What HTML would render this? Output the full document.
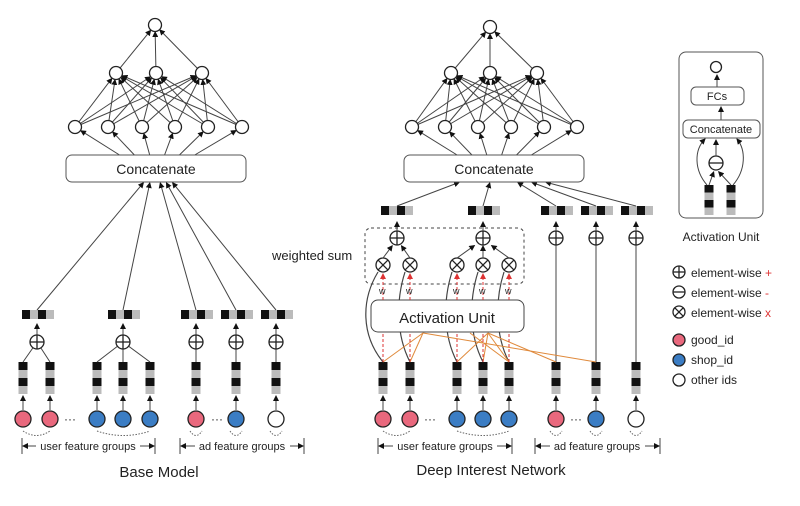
<!DOCTYPE html>
<html><head><meta charset="utf-8">
<style>
html,body{margin:0;padding:0;background:#fff;}
svg{display:block;}
text{font-family:"Liberation Sans",sans-serif;fill:#222;}
</style></head>
<body>
<svg id="s" width="800" height="506" viewBox="0 0 800 506" xmlns="http://www.w3.org/2000/svg">
<defs>
<marker id="a" markerWidth="6" markerHeight="6" refX="5" refY="3" orient="auto" markerUnits="userSpaceOnUse"><path d="M0,0 L6,3 L0,6 z" fill="#111"/></marker>
<marker id="r" markerWidth="6" markerHeight="6" refX="5" refY="3" orient="auto" markerUnits="userSpaceOnUse"><path d="M0,0 L6,3 L0,6 z" fill="#d33"/></marker>
</defs>
<g id="g"></g>
<rect x="66" y="155" width="180" height="27" rx="6" fill="#fff" stroke="#555"/>
<text x="156" y="174" font-size="14" text-anchor="middle">Concatenate</text>
<rect x="404" y="155" width="180" height="27" rx="6" fill="#fff" stroke="#555"/>
<text x="494" y="174" font-size="14" text-anchor="middle">Concatenate</text>
<text x="272" y="260" font-size="13">weighted sum</text>
<text x="88" y="450" font-size="11" text-anchor="middle">user feature groups</text>
<text x="242" y="450" font-size="11" text-anchor="middle">ad feature groups</text>
<text x="159" y="477" font-size="15" text-anchor="middle">Base Model</text>
<text x="445" y="450" font-size="11" text-anchor="middle">user feature groups</text>
<text x="597" y="450" font-size="11" text-anchor="middle">ad feature groups</text>
<text x="491" y="475" font-size="15" text-anchor="middle">Deep Interest Network</text>
<rect x="679" y="52" width="84" height="166" rx="7" fill="none" stroke="#555"/>
<rect x="691" y="87" width="53" height="18" rx="5" fill="#fff" stroke="#555"/>
<text x="717" y="100" font-size="11" text-anchor="middle">FCs</text>
<rect x="683" y="120" width="77" height="18" rx="5" fill="#fff" stroke="#555"/>
<text x="721" y="133" font-size="11" text-anchor="middle">Concatenate</text>
<text x="721" y="241" font-size="12" text-anchor="middle">Activation Unit</text>
<text x="691" y="277" font-size="12">element-wise <tspan fill="#d33">+</tspan></text>
<text x="691" y="297" font-size="12">element-wise <tspan fill="#d33">-</tspan></text>
<text x="691" y="317" font-size="12">element-wise <tspan fill="#d33">x</tspan></text>
<text x="691" y="344" font-size="12">good_id</text>
<text x="691" y="364" font-size="12">shop_id</text>
<text x="691" y="384" font-size="12">other ids</text>
<g id="top"></g>
<text x="447" y="323" font-size="15" text-anchor="middle">Activation Unit</text>
</svg>
<script>
var g=document.getElementById('g'),tp=document.getElementById('top'),NS='http://www.w3.org/2000/svg';
function el(t,a,p){var e=document.createElementNS(NS,t);for(var k in a)e.setAttribute(k,a[k]);(p||g).appendChild(e);return e;}
function line(x1,y1,x2,y2,arr,col,dash,w,p){var o={x1:x1,y1:y1,x2:x2,y2:y2,stroke:col||'#444','stroke-width':w||1};if(arr)o['marker-end']='url(#'+(col=='#d33'?'r':'a')+')';if(dash)o['stroke-dasharray']=dash;return el('line',o,p);}
function circ(x,y,r,f,p){el('circle',{cx:x,cy:y,r:r,fill:f||'#fff',stroke:'#222','stroke-width':1.3},p);}
function shorten(x1,y1,x2,y2,d){var dx=x2-x1,dy=y2-y1,l=Math.hypot(dx,dy);return [x2-dx/l*d,y2-dy/l*d];}
function arrow(x1,y1,x2,y2,d,col,dash){var e=shorten(x1,y1,x2,y2,d);line(x1,y1,e[0],e[1],true,col,dash);}
function op(x,y,t,r,p){r=r||7;circ(x,y,r,'#fff',p);var q=p||g;
 if(t=='+'){line(x-r,y,x+r,y,0,'#222',0,1.3,q);line(x,y-r,x,y+r,0,'#222',0,1.3,q);}
 if(t=='-'){line(x-r,y,x+r,y,0,'#222',0,1.3,q);}
 if(t=='x'){var d=r*0.7;line(x-d,y-d,x+d,y+d,0,'#222',0,1.3,q);line(x-d,y+d,x+d,y-d,0,'#222',0,1.3,q);}}
function hbar(x,y){var c=['#111','#bbb','#111','#bbb'];for(var i=0;i<4;i++)el('rect',{x:x+i*8,y:y,width:8,height:9,fill:c[i]});}
function vbar(x,y,h){h=h||8;var c=['#111','#bbb','#111','#bbb'];for(var i=0;i<4;i++)el('rect',{x:x-4.5,y:y+i*h,width:9,height:h,fill:c[i]});}
function mlp(top,mid,bot,cx,cy0){
 mid.forEach(function(m){arrow(m,73,top[0],top[1],7);});
 bot.forEach(function(b){mid.forEach(function(m){arrow(b,127,m,73,7);});});
 bot.forEach(function(b){var sx=cx+(b-cx)*0.45;arrow(sx,cy0,b,127,7);});
 circ(top[0],top[1],6.5);mid.forEach(function(m){circ(m,73,6.5);});bot.forEach(function(b){circ(b,127,6.5);});}
mlp([155,25],[116,156,202],[75,108,142,175,208,242],156,155);
mlp([490,27],[451,490,537],[412,445,478,511,544,577],494,155);
var PINK='#e9687d',BLUE='#3b7dc4';
function idc(x,f){circ(x,419,8,f);}
function dots(x,y){el('text',{x:x,y:y,'font-size':12,'text-anchor':'middle',fill:'#555'}).textContent='···';}
function arc(x1,x2){el('path',{d:'M'+x1+',431 Q'+((x1+x2)/2)+',440 '+x2+',431',fill:'none',stroke:'#666','stroke-dasharray':'1.5,1.5'});}
function bracket(x1,x2,tx1,tx2){line(x1,438,x1,454,0,'#444');line(x2,438,x2,454,0,'#444');arrow(tx1,446,x1,446,1);arrow(tx2,446,x2,446,1);}
var bIds=[[23,PINK],[50,PINK],[97,BLUE],[123,BLUE],[150,BLUE],[196,PINK],[236,BLUE],[276,'#fff']];
bIds.forEach(function(d){vbar(d[0],362);arrow(d[0],410,d[0],395,1);idc(d[0],d[1]);});
dots(70,423);dots(217,423);arc(23,50);arc(97,150);arc(190,202);arc(230,242);arc(270,282);
bracket(22,155,36,140);bracket(180,304,195,290);
[[37,[23,50]],[123,[97,123,150]],[196,[196]],[236,[236]],[276,[276]]].forEach(function(p){
 p[1].forEach(function(x){line(x,362,p[0],342,0,'#444');});
 arrow(p[0],335,p[0],323,1);op(p[0],342,'+');});
var bb=[[22,37],[108,123],[181,196],[221,236],[261,276]],bt=[144,150,160,166,172];
bb.forEach(function(b,i){hbar(b[0],310);arrow(b[1],310,bt[i],182,1);});
var dIds=[[383,PINK],[410,PINK],[457,BLUE],[483,BLUE],[509,BLUE],[556,PINK],[596,BLUE],[636,'#fff']];
dIds.forEach(function(d){vbar(d[0],362);arrow(d[0],410,d[0],395,1);idc(d[0],d[1]);});
dots(430,423);dots(576,423);arc(383,410);arc(457,509);arc(550,562);arc(590,602);arc(630,642);
bracket(378,512,393,497);bracket(535,660,550,645);
el('rect',{x:365,y:228,width:159,height:56,rx:6,fill:'none',stroke:'#444','stroke-dasharray':'3,3'});
[556,596,636].forEach(function(x){line(x,362,x,245,0,'#444');op(x,238,'+');arrow(x,231,x,221,1);});
var xs=[383,410,457,483,509];
xs.forEach(function(x,i){var off=(i==0?-22:-14);
 el('path',{d:'M'+x+',362 C'+(x+off)+',335 '+(x+off)+',300 '+(x-5)+',272',fill:'none',stroke:'#444','stroke-width':1.2});});
[[423,383],[423,410],[423,596],[488,457],[488,483],[488,509],[488,556],[470,509]].forEach(function(o){line(o[0],333,o[1],362,0,'#e08a3c',0,1);});
xs.forEach(function(x){line(x,362,x,333,0,'#d33','3,2');});
el('rect',{x:371,y:300,width:153,height:32,rx:7,fill:'#fff',stroke:'#444'});
xs.forEach(function(x){arrow(x,300,x,273,1,'#d33','3,2');var t=el('text',{x:x-4,y:294,'font-size':9});t.setAttribute('fill','#d33');t.textContent='w';});
xs.forEach(function(x){op(x,265,'x');});
[[397,[383,410]],[483,[457,483,509]]].forEach(function(p){p[1].forEach(function(x){arrow(x,258,p[0]+(x-p[0])*0.3,245,1);});op(p[0],238,'+');arrow(p[0],231,p[0],221,1);});
var db=[[381,397],[468,483],[541,556],[581,596],[621,636]],dt=[460,490,517,531,545];
db.forEach(function(b,i){hbar(b[0],206);arrow(b[1],206,dt[i],182,1);});
circ(716,67,5.5);arrow(717,87,717,74,1);arrow(721,120,721,106,1);
vbar(709,185,7.5);vbar(731,185,7.5);
arrow(709,185,714,171,1);arrow(731,185,718,171,1);op(716,163,'-',7);arrow(716,156,716,139,1);
el('path',{d:'M707,185 C694,170 694,150 705,139',fill:'none',stroke:'#444','marker-end':'url(#a)'});
el('path',{d:'M733,185 C746,170 746,150 737,139',fill:'none',stroke:'#444','marker-end':'url(#a)'});
op(679,272,'+',6);op(679,292,'-',6);op(679,312,'x',6);
circ(679,340,6,PINK);circ(679,360,6,BLUE);circ(679,380,6,'#fff');
</script>
</body></html>
